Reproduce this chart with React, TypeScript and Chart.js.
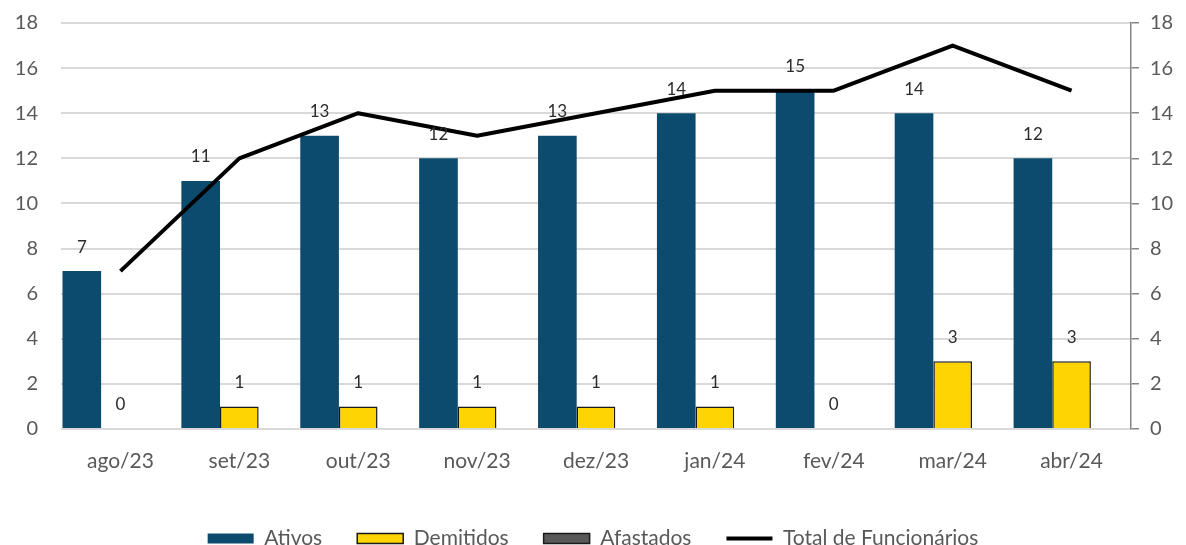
import React, { useEffect, useRef } from "react";
import { Chart, registerables } from "chart.js";

Chart.register(...registerables);

const categories = ["ago/23", "set/23", "out/23", "nov/23", "dez/23", "jan/24", "fev/24", "mar/24", "abr/24"];
const ativos = [7, 11, 13, 12, 13, 14, 15, 14, 12];
const demitidos = [0, 1, 1, 1, 1, 1, 0, 3, 3];
const afastados = [0, 0, 0, 0, 0, 0, 0, 0, 0];
const totalFuncionarios = [7, 12, 14, 13, 14, 15, 15, 17, 15];
const yTicks = [0, 2, 4, 6, 8, 10, 12, 14, 16, 18];

const FONT = "Lato, 'Liberation Sans', sans-serif";

const dataLabelPlugin = {
  id: "dataLabels",
  afterDatasetsDraw(chart: any) {
    const ctx = chart.ctx;
    ctx.save();
    ctx.font = `17px ${FONT}`;
    ctx.fillStyle = "#2b2b2b";
    ctx.textAlign = "center";
    ctx.textBaseline = "middle";
    [0, 1].forEach((di) => {
      const meta = chart.getDatasetMeta(di);
      const values = chart.data.datasets[di].data as number[];
      meta.data.forEach((el: any, i: number) => {
        ctx.fillText(String(values[i]), el.x, el.y - 24);
      });
    });
    ctx.restore();
  },
};

export default function App() {
  const ref = useRef<HTMLCanvasElement | null>(null);
  useEffect(() => {
    if (!ref.current) return;
    const chart = new Chart(ref.current, {
      type: "bar",
      data: {
        labels: categories,
        datasets: [
          {
            type: "bar",
            label: "Ativos",
            data: ativos,
            backgroundColor: "#0c4b6d",
            borderWidth: 0,
            order: 1,
            pointStyle: "rect",
          } as any,
          {
            type: "bar",
            label: "Demitidos",
            data: demitidos,
            backgroundColor: "#ffd400",
            borderColor: "#1a1a1a",
            borderWidth: 1.5,
            order: 1,
            pointStyle: "rect",
          } as any,
          {
            type: "bar",
            label: "Afastados",
            data: afastados,
            backgroundColor: "#595959",
            borderColor: "#1a1a1a",
            borderWidth: 1.5,
            order: 1,
            pointStyle: "rect",
          } as any,
          {
            type: "line",
            label: "Total de Funcionários",
            data: totalFuncionarios,
            borderColor: "#000000",
            backgroundColor: "#000000",
            borderWidth: 4,
            pointRadius: 0,
            borderJoinStyle: "round",
            tension: 0,
            yAxisID: "y1",
            order: 0,
            pointStyle: "line",
          } as any,
        ],
      },
      options: {
        responsive: false,
        animation: false,
        datasets: {
          bar: { categoryPercentage: 0.975, barPercentage: 1 },
        } as any,
        layout: { padding: { top: 23, bottom: -14, left: 0, right: 0 } },
        plugins: {
          tooltip: { enabled: false },
          legend: {
            position: "bottom",
            labels: {
              usePointStyle: true,
              pointStyleWidth: 46,
              boxHeight: 10,
              padding: 35,
              color: "#595959",
              font: { family: FONT, size: 21 },
              sort: (a: any, b: any) => a.datasetIndex - b.datasetIndex,
            },
          },
        },
        scales: {
          x: {
            grid: { display: false },
            border: { display: false },
            ticks: { color: "#595959", font: { family: FONT, size: 21 }, padding: 12 },
            afterFit: (s: any) => {
              s.height = 64;
            },
          },
          y: {
            position: "left",
            min: 0,
            max: 18,
            afterBuildTicks: (s: any) => {
              s.ticks = yTicks.map((v) => ({ value: v }));
            },
            grid: { color: "#d9d9d9", lineWidth: 2, drawTicks: false },
            border: { display: false },
            ticks: { color: "#595959", font: { family: FONT, size: 20 }, padding: 23 },
            afterFit: (s: any) => {
              s.width = 61;
              s.paddingTop = 0;
              s.paddingBottom = 0;
            },
          },
          y1: {
            position: "right",
            min: 0,
            max: 18,
            afterBuildTicks: (s: any) => {
              s.ticks = yTicks.map((v) => ({ value: v }));
            },
            grid: { drawOnChartArea: false, color: "#868686", lineWidth: 1.5, tickLength: 8 },
            border: { display: true, color: "#868686", width: 1.5 },
            ticks: { color: "#595959", font: { family: FONT, size: 20 }, padding: 11 },
            afterFit: (s: any) => {
              s.width = 55;
              s.paddingTop = 0;
              s.paddingBottom = 0;
            },
          },
        },
      },
      plugins: [dataLabelPlugin],
    });
    return () => chart.destroy();
  }, []);
  return (
    <div style={{ position: "absolute", left: 0, top: 0, width: 1186, height: 545, background: "#fff" }}>
      <canvas ref={ref} width={1186} height={545} />
    </div>
  );
}
